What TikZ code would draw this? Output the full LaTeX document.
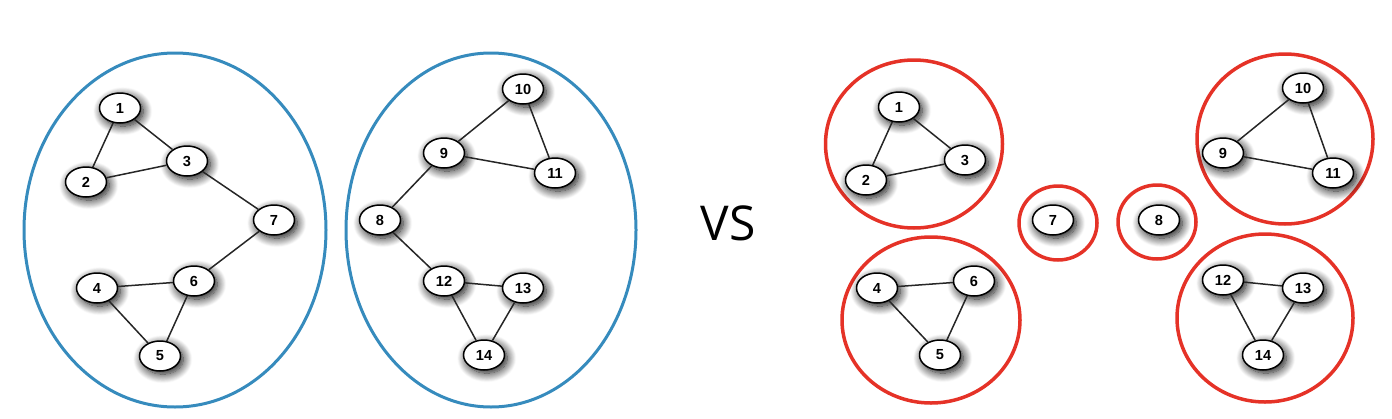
\documentclass[tikz,border=0pt]{standalone}
\usepackage{fontspec}
\setmainfont{Liberation Sans}
\newfontfamily\vsfont{Open Sans}
\usepackage{xcolor}
\usepackage{tikz}
\usetikzlibrary{shapes.geometric,shadows.blur}
\definecolor{setblue}{RGB}{54,139,189}
\definecolor{setred}{RGB}{229,50,39}
\tikzset{
  vertex/.style={draw, line width=0.75pt, ellipse, fill=white, minimum width=20.5pt, minimum height=15pt, inner sep=0pt,
    font=\fontsize{7.3}{7.3}\selectfont\bfseries,
    blur shadow={shadow xshift=1.4pt, shadow yshift=-1.6pt, shadow blur radius=4.5pt, shadow opacity=95, shadow blur steps=12}},
  link/.style={draw, line width=0.75pt, black!85},
  blueset/.style={draw=setblue, line width=1.5pt},
  redset/.style={draw=setred, line width=1.75pt},
}
\begin{document}
\begin{tikzpicture}[x=0.5pt,y=-0.5pt]
  \useasboundingbox (0,0) rectangle (1392,418);
  % two communities
  \draw[blueset] (175,230) ellipse [x radius=75.5pt, y radius=88.5pt];
  \draw[blueset] (491,230) ellipse [x radius=72.5pt, y radius=88.5pt];
  \foreach \n/\x/\y in {1/120/108, 2/86/182, 3/187/161, 7/274/220, 4/97/288, 6/194/281, 5/160/356,
      10/523/89, 9/444/153, 11/555/173, 8/380/220, 12/444/281, 13/523/288, 14/484/355}
    \node[vertex] (a\n) at (\x,\y) {\n};
  \foreach \u/\v in {1/2, 1/3, 2/3, 3/7, 7/6, 4/6, 4/5, 6/5, 10/9, 10/11, 9/11, 9/8, 8/12, 12/13, 12/14, 13/14}
    \draw[link] (a\u) -- (a\v);
  \node[font=\vsfont\fontsize{24}{24}\selectfont] (vs) at (728,223) {VS};
  % six communities
  \draw[redset] (914,144) ellipse [x radius=44.25pt, y radius=42pt];
  \draw[redset] (931,320) ellipse [x radius=44.5pt, y radius=41.5pt];
  \draw[redset] (1058,223) ellipse [x radius=19.5pt, y radius=18.5pt];
  \draw[redset] (1157,222) ellipse [x radius=19.5pt, y radius=18.5pt];
  \draw[redset] (1285,139) ellipse [x radius=44pt, y radius=42.5pt];
  \draw[redset] (1265,318) ellipse [x radius=44pt, y radius=42pt];
  \foreach \n/\x/\y in {1/899/107, 2/866/180, 3/965/160, 7/1053/220, 4/877/288, 6/974/281, 5/940/355,
      10/1303/88, 9/1223/153, 11/1333/173, 8/1159/220, 12/1223/280, 13/1303/288, 14/1263/355}
    \node[vertex] (b\n) at (\x,\y) {\n};
  \foreach \u/\v in {1/2, 1/3, 2/3, 4/6, 4/5, 6/5, 10/9, 10/11, 9/11, 12/13, 12/14, 13/14}
    \draw[link] (b\u) -- (b\v);
\end{tikzpicture}
\end{document}
